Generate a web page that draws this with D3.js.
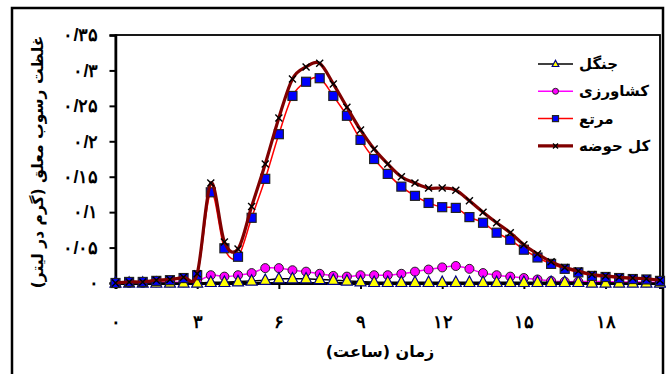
<!DOCTYPE html>
<html>
<head>
<meta charset="utf-8">
<script src="https://cdn.jsdelivr.net/npm/d3@7"></script>
<style>
  body { margin: 0; background: #fff; }
  svg { display: block; font-family: "DejaVu Sans", sans-serif; }
</style>
</head>
<body>
<svg id="chart" width="666" height="374"></svg>
<script>
// time in hours (every half hour)
const hours = [0, 0.5, 1, 1.5, 2, 2.5, 3, 3.5, 4, 4.5, 5, 5.5, 6, 6.5, 7, 7.5, 8, 8.5, 9, 9.5,
    10, 10.5, 11, 11.5, 12, 12.5, 13, 13.5, 14, 14.5, 15, 15.5, 16, 16.5, 17, 17.5, 18, 18.5, 19, 19.5, 20];

const forest = [0, 0, 0, 0, 0, 0, 0, 0.001, 0.001, 0.002, 0.003, 0.004, 0.006, 0.006, 0.006, 0.005, 0.004, 0.003, 0.002, 0.001,
    0.001, 0.001, 0.001, 0.001, 0.001, 0.001, 0.001, 0.001, 0.001, 0.001, 0.001, 0.001, 0.001, 0.001, 0.001, 0, 0, 0, 0, 0, 0];

const agriculture = [0, 0, 0, 0.001, 0.001, 0.001, 0.002, 0.011, 0.009, 0.011, 0.014, 0.021, 0.021, 0.018, 0.016, 0.013, 0.010, 0.009, 0.011, 0.011,
    0.011, 0.013, 0.016, 0.019, 0.022, 0.024, 0.020, 0.014, 0.011, 0.009, 0.007, 0.005, 0.003, 0.002, 0.002, 0.002, 0.002, 0.0015, 0.0015, 0.001, 0.001];

const rangeland = [0, 0.0015, 0.0015, 0.003, 0.004, 0.007, 0.011, 0.128, 0.049, 0.037, 0.092, 0.147, 0.210, 0.264, 0.284, 0.289, 0.264, 0.236, 0.202, 0.175,
    0.154, 0.136, 0.123, 0.113, 0.107, 0.106, 0.093, 0.085, 0.071, 0.061, 0.047, 0.036, 0.027, 0.020, 0.015, 0.010, 0.0085, 0.007, 0.0056, 0.005, 0.003];

const total = [0, 0.0015, 0.0015, 0.004, 0.005, 0.008, 0.013, 0.141, 0.058, 0.048, 0.108, 0.168, 0.233, 0.288, 0.305, 0.310, 0.281, 0.248, 0.216, 0.189,
    0.168, 0.150, 0.141, 0.134, 0.134, 0.131, 0.116, 0.100, 0.085, 0.071, 0.054, 0.041, 0.030, 0.022, 0.017, 0.012, 0.010, 0.008, 0.007, 0.006, 0.004];

const xTicks = [0, 3, 6, 9, 12, 15, 18];
const yTicks = [0, 0.05, 0.1, 0.15, 0.2, 0.25, 0.3, 0.35];
const yTickLabels = ['۰', '۰/۰۵', '۰/۱', '۰/۱۵', '۰/۲', '۰/۲۵', '۰/۳', '۰/۳۵'];
const xTickLabels = ['۰', '۳', '۶', '۹', '۱۲', '۱۵', '۱۸'];

const seriesNames = ['جنگل', 'کشاورزی', 'مرتع', 'کل حوضه'];
const xTitle = 'زمان (ساعت)';
const yTitle = 'غلظت رسوب معلق (گرم در لیتر)';

function translate(x, y) {
    return `translate(${x}, ${y})`;
}

const svg = d3.select('#chart');
const margin = { left: 115.5, top: 35, right: 6, bottom: 91 };
const width = 666 - margin.left - margin.right,
    height = 374 - margin.top - margin.bottom;

const x = d3.scaleLinear().domain([0, 20]).range([0, width]);
const y = d3.scaleLinear().domain([0, 0.35]).range([height, 0]);

// outer frame
svg.append('rect')
    .attr('x', 12).attr('y', 8).attr('width', 651).attr('height', 380)
    .style('fill', 'none').style('stroke', '#000').style('stroke-width', 2.5);

const view = svg.append('g').attr('transform', translate(margin.left, margin.top));

// plot area box
view.append('rect')
    .attr('width', width).attr('height', height)
    .style('fill', 'none').style('stroke', '#000').style('stroke-width', 1.8);

// y axis
const yAxis = d3.axisLeft(y).tickValues(yTicks).tickSize(6).tickFormat((d, i) => yTickLabels[i]);
const yg = view.append('g').call(yAxis);
yg.select('.domain').style('stroke-width', 2.5);
yg.selectAll('.tick line').style('stroke-width', 2);
yg.selectAll('.tick text')
    .attr('x', -17)
    .style('font-size', '18px').style('font-weight', 'bold').style('direction', 'ltr')
    .attr('font-family', null);

// x axis
const xAxis = d3.axisBottom(x).tickValues(xTicks).tickSize(6).tickFormat((d, i) => xTickLabels[i]);
const xg = view.append('g').attr('transform', translate(0, height)).call(xAxis);
xg.select('.domain').style('stroke-width', 3);
xg.selectAll('.tick line').style('stroke-width', 2);
xg.selectAll('.tick text')
    .attr('y', 32)
    .style('font-size', '18px').style('font-weight', 'bold')
    .attr('font-family', null);

// axis titles
svg.append('text')
    .attr('transform', translate(380, 357))
    .style('text-anchor', 'middle')
    .style('font-size', '16px').style('font-weight', 'bold')
    .style('direction', 'rtl')
    .text(xTitle);

svg.append('text')
    .attr('transform', translate(43, 162) + ' rotate(-90)')
    .style('text-anchor', 'middle')
    .style('font-size', '15.5px').style('font-weight', 'bold')
    .style('direction', 'rtl')
    .text(yTitle);

const smooth = d3.curveCardinal.tension(0);
const lineOf = values => d3.line()
    .x((d, i) => x(hours[i]))
    .y(d => y(d))
    .curve(smooth)(values);

// marker painters
const markers = {
    triangle: (g, cx, cy, s) => g.append('path')
        .attr('d', `M${cx},${cy - s * 0.62}L${cx + s * 0.55},${cy + s * 0.42}L${cx - s * 0.55},${cy + s * 0.42}Z`)
        .style('fill', '#ffff00').style('stroke', '#000080').style('stroke-width', 1.2),
    circle: (g, cx, cy, s) => g.append('circle')
        .attr('cx', cx).attr('cy', cy).attr('r', s / 2)
        .style('fill', '#ff00ff').style('stroke', '#222').style('stroke-width', 1),
    square: (g, cx, cy, s) => g.append('rect')
        .attr('x', cx - s / 2).attr('y', cy - s / 2).attr('width', s).attr('height', s)
        .style('fill', '#0000ff').style('stroke', '#222').style('stroke-width', 1.2),
    cross: (g, cx, cy, s) => g.append('path')
        .attr('d', `M${cx - s / 2},${cy - s / 2}L${cx + s / 2},${cy + s / 2}M${cx - s / 2},${cy + s / 2}L${cx + s / 2},${cy - s / 2}`)
        .style('fill', 'none').style('stroke', '#000').style('stroke-width', 1.4)
};

const series = [
    { name: seriesNames[1], values: agriculture, color: '#ff00ff', width: 1.5, marker: 'circle', size: 9 },
    { name: seriesNames[0], values: forest, color: '#000000', width: 1.5, marker: 'triangle', size: 10 },
    { name: seriesNames[2], values: rangeland, color: '#ff0000', width: 1.5, marker: 'square', size: 9 },
    { name: seriesNames[3], values: total, color: '#800000', width: 3.2, marker: 'cross', size: 7 }
];

series.forEach(s => {
    const g = view.append('g');
    g.append('path')
        .attr('d', lineOf(s.values))
        .style('fill', 'none').style('stroke', s.color).style('stroke-width', s.width);
    s.values.forEach((v, i) => markers[s.marker](g, x(hours[i]), y(v), s.size));
});

// legend (order as in the original)
const legendOrder = [1, 0, 2, 3];
const legend = svg.append('g').attr('transform', translate(538, 64));
legendOrder.forEach((k, i) => {
    const s = series[k];
    const row = legend.append('g').attr('transform', translate(0, 27.3 * i));
    row.append('line').attr('x1', 0).attr('x2', 35).attr('y1', 0).attr('y2', 0)
        .style('stroke', s.color).style('stroke-width', s.width);
    markers[s.marker](row, 17.5, 0, s.marker === 'cross' ? 5 : 6);
    row.append('text')
        .attr('x', 41).attr('y', 5)
        .style('font-size', '15px').style('font-weight', 'bold')
        .style('direction', 'ltr')
        .text(s.name);
});
</script>
</body>
</html>
